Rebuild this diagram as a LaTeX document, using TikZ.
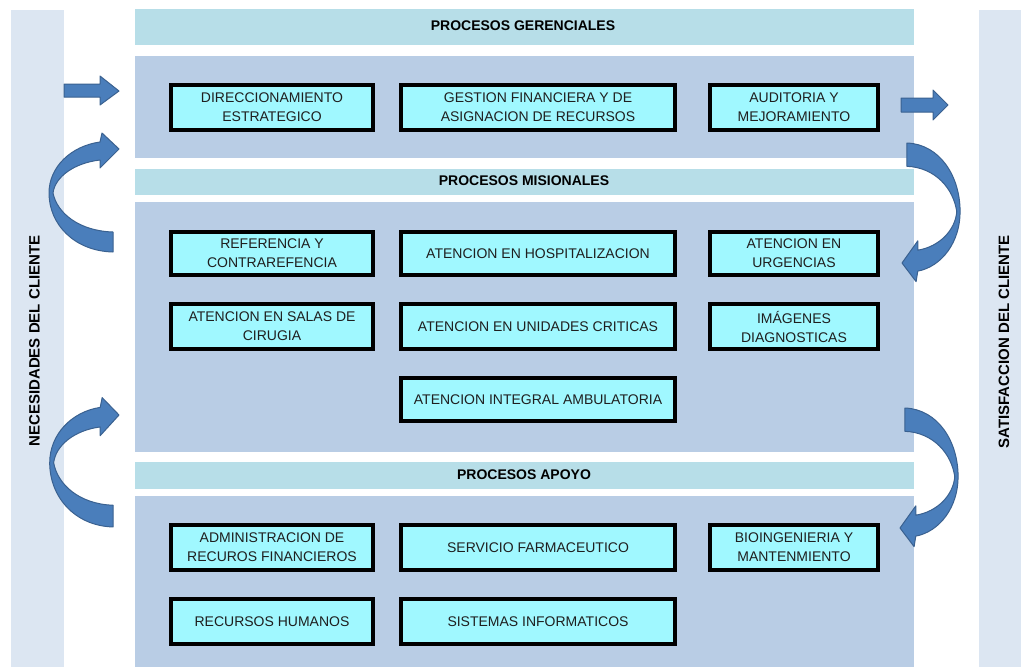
\documentclass[tikz,border=0pt]{standalone}
\usepackage{fontspec}
\setmainfont{Liberation Sans}
\definecolor{sidecol}{HTML}{DCE6F2}
\definecolor{barcol}{HTML}{B7DEE8}
\definecolor{panelcol}{HTML}{B9CDE5}
\definecolor{boxcol}{HTML}{A0F8FF}
\definecolor{arrcol}{HTML}{4A7EBB}
\definecolor{arrline}{HTML}{3A6190}
\definecolor{textcol}{HTML}{1F1F1F}
\begin{document}
\begin{tikzpicture}[x=1pt,y=-1pt,
  sidecolumn/.style={fill=sidecol,draw=none},
  headbar/.style={fill=barcol,draw=none},
  panelbg/.style={fill=panelcol,draw=none},
  pbox/.style={draw=black,line width=4pt,fill=boxcol,align=center,
    font=\fontsize{14}{19}\selectfont,text=textcol,inner sep=0pt},
  hdrtext/.style={font=\fontsize{14}{16}\bfseries\selectfont,text=black},
  sidetext/.style={font=\fontsize{15}{17}\bfseries\selectfont,text=black,rotate=90},
  arrowshape/.style={fill=arrcol,draw=arrline,line width=1pt,line join=round}
]
\useasboundingbox (0,0) rectangle (1021,667);
\fill[white] (0,0) rectangle (1021,667);

% side columns
\fill[sidecolumn] (11,10) rectangle (64,667);
\fill[sidecolumn] (979,10) rectangle (1021,667);
\node[sidetext] (nec) at (34.5,341) {NECESIDADES DEL CLIENTE};
\node[sidetext] (sat) at (1004,342) {SATISFACCION DEL CLIENTE};

% bars and panels
\fill[headbar] (135,9) rectangle (914,45);
\fill[panelbg] (135,56) rectangle (914,158);
\fill[headbar] (135,169) rectangle (914,195);
\fill[panelbg] (135,202) rectangle (914,452);
\fill[headbar] (135,462) rectangle (914,489);
\fill[panelbg] (135,496) rectangle (914,667);

\node[hdrtext] (h1) at (523,26) {PROCESOS GERENCIALES};
\node[hdrtext] (h2) at (524,181) {PROCESOS MISIONALES};
\node[hdrtext] (h3) at (524,475) {PROCESOS APOYO};

% boxes
\node[pbox,minimum width=202pt,minimum height=45pt] (dir) at (272,107.5) {DIRECCIONAMIENTO\\ESTRATEGICO};
\node[pbox,minimum width=274pt,minimum height=45pt] (ges) at (538,107.5) {GESTION FINANCIERA Y DE\\ASIGNACION DE RECURSOS};
\node[pbox,minimum width=168pt,minimum height=45pt] (aud) at (794,107.5) {AUDITORIA Y\\MEJORAMIENTO};

\node[pbox,minimum width=202pt,minimum height=43pt] (ref) at (272,253.5) {REFERENCIA Y\\CONTRAREFENCIA};
\node[pbox,minimum width=274pt,minimum height=43pt] (hos) at (538,253.5) {ATENCION EN HOSPITALIZACION};
\node[pbox,minimum width=168pt,minimum height=43pt] (urg) at (794,253.5) {ATENCION EN\\URGENCIAS};

\node[pbox,minimum width=202pt,minimum height=45pt] (sal) at (272,326.5) {ATENCION EN SALAS DE\\CIRUGIA};
\node[pbox,minimum width=274pt,minimum height=45pt] (uci) at (538,326.5) {ATENCION EN UNIDADES CRITICAS};
\node[pbox,minimum width=168pt,minimum height=45pt] (img) at (794,326.5) {IMÁGENES\\DIAGNOSTICAS};

\node[pbox,minimum width=274pt,minimum height=43pt] (amb) at (538,399.5) {ATENCION INTEGRAL AMBULATORIA};

\node[pbox,minimum width=202pt,minimum height=45pt] (adm) at (272,547.5) {ADMINISTRACION DE\\RECUROS FINANCIEROS};
\node[pbox,minimum width=274pt,minimum height=45pt] (far) at (538,547.5) {SERVICIO FARMACEUTICO};
\node[pbox,minimum width=168pt,minimum height=45pt] (bio) at (794,547.5) {BIOINGENIERIA Y\\MANTENMIENTO};

\node[pbox,minimum width=202pt,minimum height=45pt] (rrh) at (272,621.5) {RECURSOS HUMANOS};
\node[pbox,minimum width=274pt,minimum height=45pt] (sis) at (538,621.5) {SISTEMAS INFORMATICOS};

% straight arrows
\draw[arrowshape] (64,84) -- (100,84) -- (100,76) -- (119,91) -- (100,105) -- (100,97) -- (64,97) -- cycle;
\draw[arrowshape] (901,98) -- (933,98) -- (933,90) -- (948,105) -- (933,120) -- (933,112) -- (901,112) -- cycle;

% curved arrows
\def\curvedarrow{(-6,103) .. controls (-45,102) and (-70,75) .. (-70,44)
  .. controls (-70,18) and (-48,-3) .. (-19,-7) -- (-17,-16) -- (0,0) -- (-19,19) -- (-19,11)
  .. controls (-45,14) and (-64,28) .. (-66,44)
  .. controls (-62,64) and (-40,82) .. (-6,83) -- cycle}
\begin{scope}[shift={(119,149)}]
  \draw[arrowshape] \curvedarrow;
\end{scope}
\begin{scope}[shift={(119,415)},xscale=0.99,yscale=1.087]
  \draw[arrowshape] \curvedarrow;
\end{scope}
\begin{scope}[shift={(902,263)},xscale=-0.83,yscale=-1.165]
  \draw[arrowshape] \curvedarrow;
\end{scope}
\begin{scope}[shift={(900,528)},xscale=-0.83,yscale=-1.165]
  \draw[arrowshape] \curvedarrow;
\end{scope}
\end{tikzpicture}
\end{document}
